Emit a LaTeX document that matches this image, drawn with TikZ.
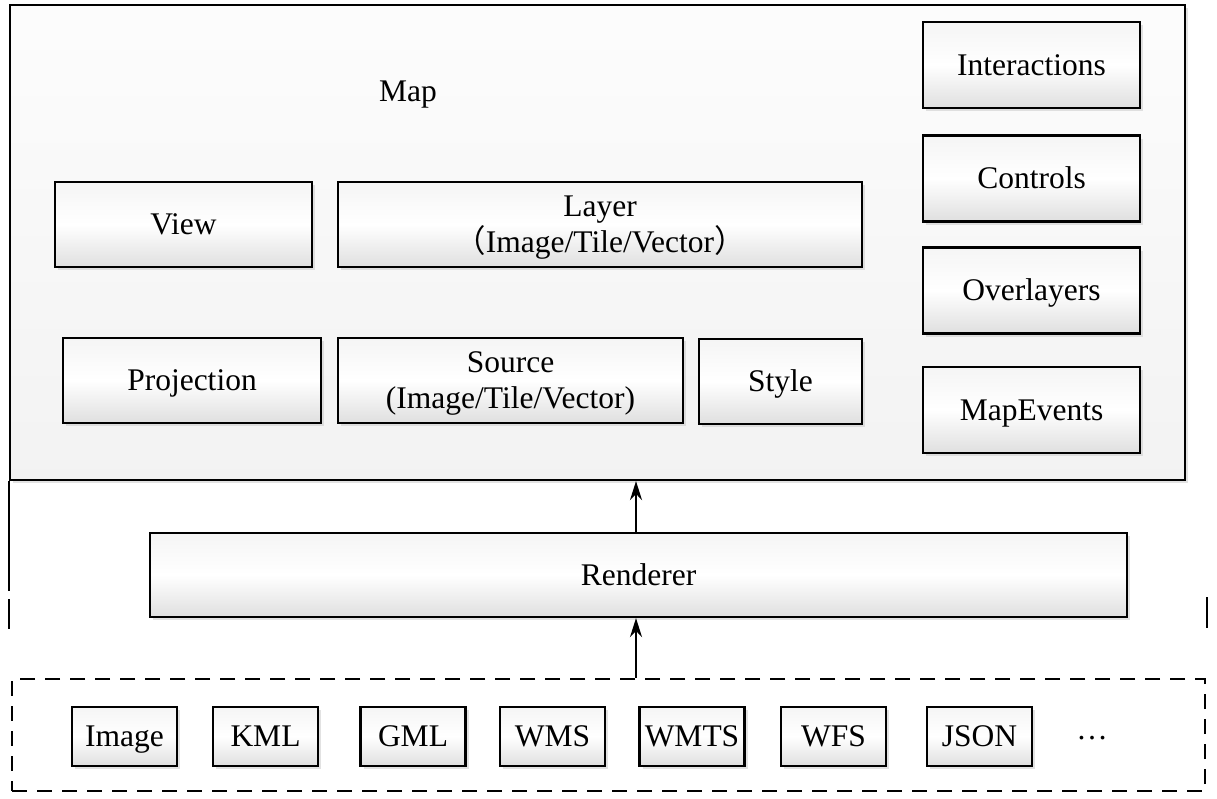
\documentclass[tikz,border=0pt]{standalone}
\usepackage{fontspec}
\setmainfont{Liberation Serif}
\newfontfamily\cjk{Noto Sans CJK SC}
\usetikzlibrary{shadows,arrows.meta}
\tikzset{
  shade/.style={drop shadow={shadow xshift=3pt,shadow yshift=-3pt,fill=gray!45}},
  part/.style={draw, line width=2.2pt, top color=gray!8, bottom color=gray!25, middle color=white,
    shade, inner sep=0pt, align=center, font=\fontsize{31.5}{36}\selectfont},
  one/.style={text height=24pt, text depth=4pt},
  two/.style={text depth=0pt},
  fmt/.style={part, one, minimum width=105pt, minimum height=59pt},
  up/.style={line width=2pt, -{Stealth[length=19pt,width=12pt]}}
}
\begin{document}
\begin{tikzpicture}[x=1pt,y=-1pt]
\useasboundingbox (0,0) rectangle (1217,798);
% map frame
\node[draw, line width=2.2pt, top color=gray!2, bottom color=gray!10, shade,
  minimum width=1175pt, minimum height=475pt] (map) at (597.5,242.5) {};
\node[font=\fontsize{31.5}{36}\selectfont] (maplabel) at (408,95) {Map};
\node[part, one, minimum width=257pt, minimum height=85pt] (view) at (183.5,224.5) {View};
\node[part, two, minimum width=524pt, minimum height=85pt] (layer) at (600,224.5)
  {Layer\\{\cjk （}Image/Tile/Vector{\cjk ）}};
\node[part, one, minimum width=258pt, minimum height=85pt] (proj) at (192,380.5) {Projection};
\node[part, two, minimum width=345pt, minimum height=85pt] (source) at (510.5,380.5)
  {Source\\(Image/Tile/Vector)};
\node[part, one, minimum width=163pt, minimum height=85pt] (style) at (780.5,381.5) {Style};
\foreach \y/\t/\n in {65/Interactions/inter, 178.5/Controls/ctrl, 290.5/Overlayers/over, 410/MapEvents/events}
  \node[part, one, minimum width=217pt, minimum height=86pt] (\n) at (1031.5,\y) {\t};
% renderer
\node[part, one, minimum width=977pt, minimum height=84pt] (renderer) at (638.5,575) {Renderer};
% data formats
\node[draw, dash pattern=on 15pt off 10pt, line width=1.8pt,
  minimum width=1193pt, minimum height=112pt] (srcs) at (608.5,735) {};
\foreach \x/\t in {124.5/Image, 265.5/KML, 413/GML, 552.5/WMS, 692/WMTS, 833.5/WFS, 979.5/JSON}
  \node[fmt] (\t) at (\x,736.5) {\t};
\node[inner sep=0pt, font=\fontsize{31.5}{36}\selectfont] (more) at (1092,738) {…};
% arrows
\coordinate (a) at (636,0);
\draw[up] (renderer.north -| a) -- (map.south -| a);
\draw[up] (srcs.north -| a) -- (renderer.south -| a);
% side lines
\draw[line width=1.5pt] (map.south west) -- ++(0,110) ++(0,8) -- ++(0,30);
\draw[line width=1.5pt] (1207,597) -- (1207,628);
\end{tikzpicture}
\end{document}
